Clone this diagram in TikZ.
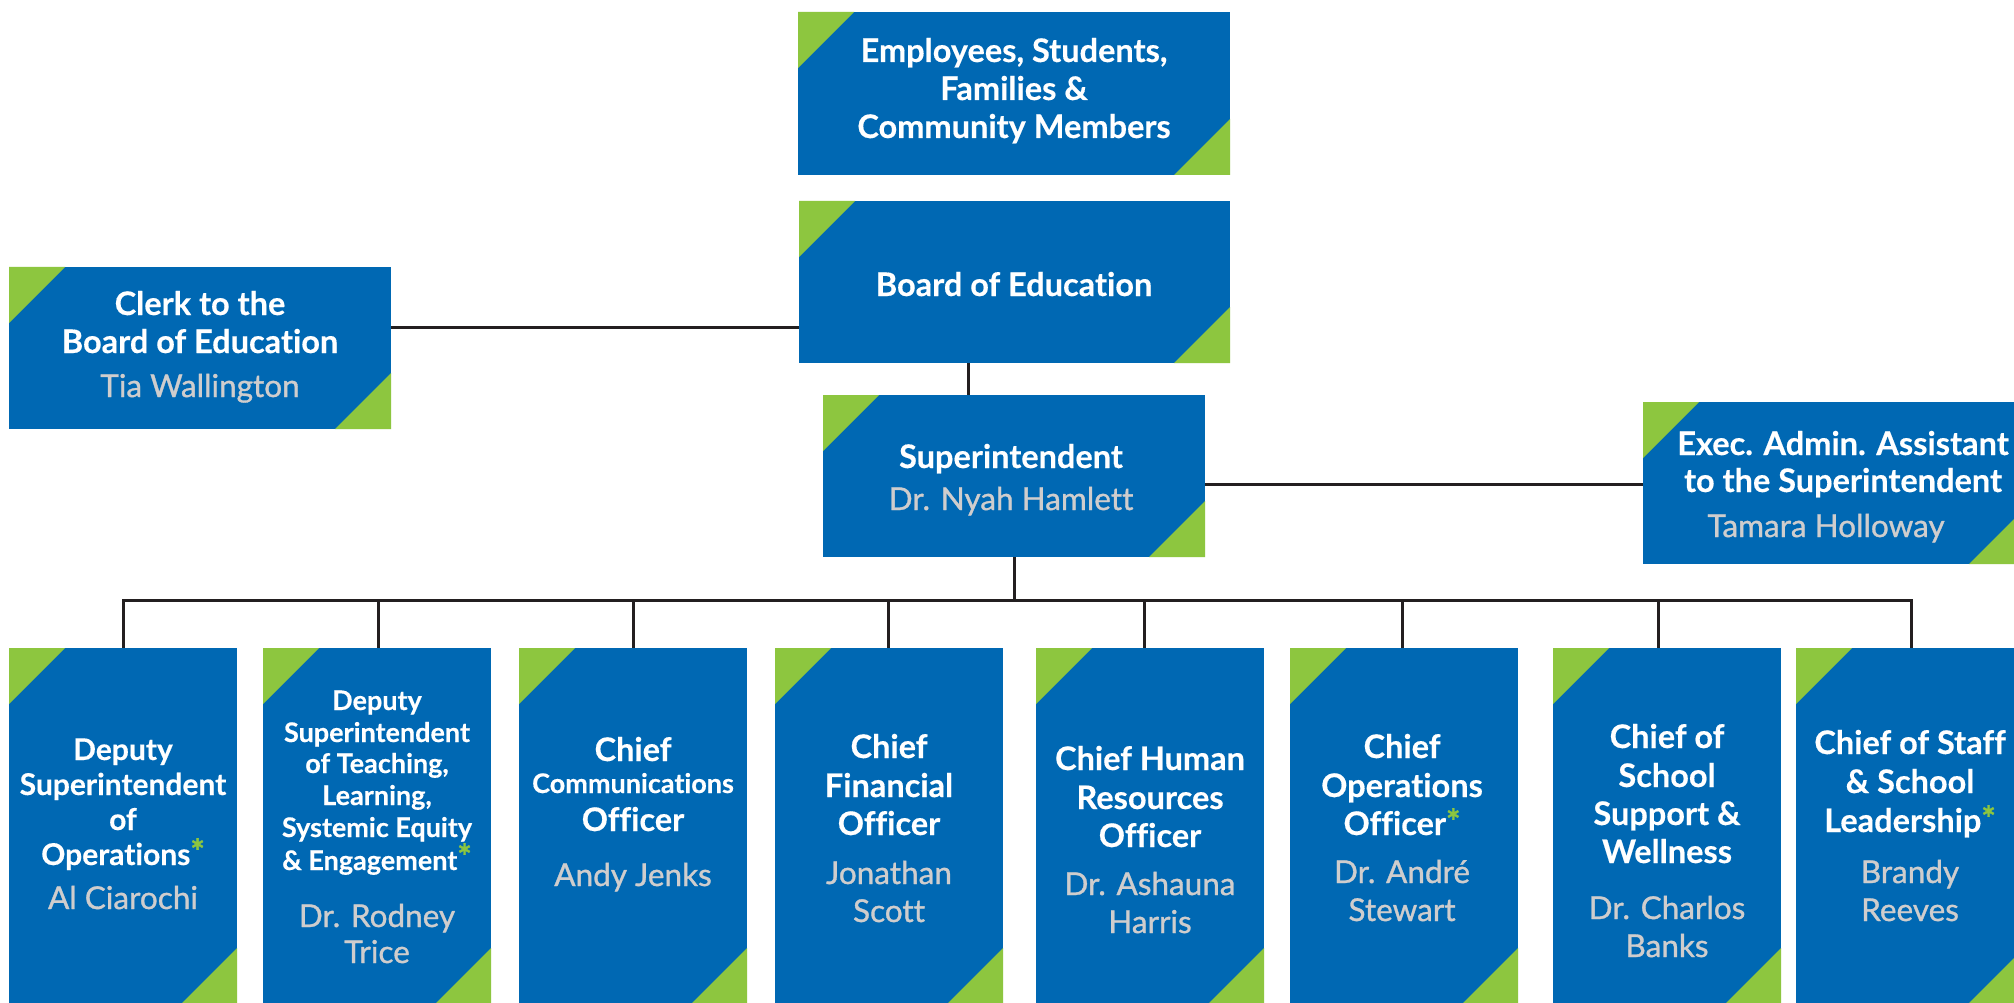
\documentclass[tikz,border=0pt]{standalone}
\usepackage{fontspec}
\setmainfont{Lato}[Ligatures={NoCommon,NoRare,NoContextual}, BoldFeatures={FakeBold=0.4}]
\newfontfamily\nmfont[FakeBold=1, Ligatures={NoCommon,NoRare,NoContextual}]{Lato}
\definecolor{bblue}{RGB}{0,104,179}
\definecolor{bgreen}{RGB}{141,198,63}
\definecolor{ngray}{RGB}{207,205,205}
\definecolor{lcol}{RGB}{35,31,32}
\newcommand{\gst}{\textcolor{bgreen}{\raisebox{1pt}{\nmfont\fontsize{34}{34}\selectfont *}}}
\newcommand{\corners}[1]{%
  \fill[bgreen] (#1.north west) -- ++(56,0) -- ++(-56,56) -- cycle;
  \fill[bgreen] (#1.south east) -- ++(-56,0) -- ++(56,-56) -- cycle;}
\tikzset{
  box/.style n args={2}{rectangle, fill=bblue, inner sep=0pt, outer sep=0pt,
    minimum width=#1pt, minimum height=#2pt},
  ttl/.style={anchor=base, text=white, inner sep=0pt, font=\bfseries\fontsize{32.5}{32.5}\selectfont},
  ttlm/.style={anchor=base, text=white, inner sep=0pt, font=\bfseries\fontsize{30}{30}\selectfont},
  ttls/.style={anchor=base, text=white, inner sep=0pt, font=\bfseries\fontsize{27}{27}\selectfont},
  ttlxs/.style={anchor=base, text=white, inner sep=0pt, font=\bfseries\fontsize{27}{27}\selectfont},
  nm/.style={anchor=base, text=ngray, inner sep=0pt, font=\nmfont\fontsize{31.5}{31.5}\selectfont},
  conn/.style={draw=lcol, line width=3pt}
}
\begin{document}
\begin{tikzpicture}[x=1pt,y=-1pt]
\clip (0,0) rectangle (2014,1003);
\fill[white] (0,0) rectangle (2014,1003);
% boxes
\node[box={432}{163}] (top) at (1014,93.5) {};
\node[box={431}{162}] (board) at (1014.5,282) {};
\node[box={382}{162}] (clerk) at (200,348) {};
\node[box={382}{162}] (super) at (1014,476) {};
\node[box={382}{162}] (exec) at (1834,483) {};
\node[box={228}{356}] (b1) at (123,826) {};
\node[box={228}{356}] (b2) at (377,826) {};
\node[box={228}{356}] (b3) at (633,826) {};
\node[box={228}{356}] (b4) at (889,826) {};
\node[box={228}{356}] (b5) at (1150,826) {};
\node[box={228}{356}] (b6) at (1404,826) {};
\node[box={228}{356}] (b7) at (1667,826) {};
\node[box={228}{356}] (b8) at (1910,826) {};
\foreach \b in {top,board,clerk,super,exec,b1,b2,b3,b4,b5,b6,b7,b8}{\corners{\b}}
% connectors
\coordinate (cl) at (0,327);
\draw[conn] (clerk.east |- cl) -- (board.west |- cl);
\coordinate (bs) at (968,0);
\draw[conn] (board.south -| bs) -- (super.north -| bs);
\coordinate (ex) at (0,484);
\draw[conn] (super.east |- ex) -- (exec.west |- ex);
\coordinate (bus) at (0,600);
\draw[conn] (super.south) -- (super.south |- bus);
\coordinate (c1) at (123,600);
\coordinate (c2) at (378,600);
\coordinate (c3) at (633,600);
\coordinate (c4) at (888,600);
\coordinate (c5) at (1144,600);
\coordinate (c6) at (1402,600);
\coordinate (c7) at (1658,600);
\coordinate (c8) at (1911,600);
\draw[conn, line cap=rect] (c1) -- (c8);
\foreach \i in {1,...,8}{\draw[conn] (c\i) -- (b\i.north -| c\i);}
% texts
\node[ttl] (t0a) at (1014,62) {Employees, Students,};
\node[ttl] (t0b) at (1014,100) {Families \&};
\node[ttl] (t0c) at (1014,138) {Community Members};
\node[ttl] (tba) at (1014,296) {Board of Education};
\node[ttl] (tca) at (200,315) {Clerk to the};
\node[ttl] (tcb) at (200,353) {Board of Education};
\node[nm] (tcn) at (200,397) {Tia Wallington};
\node[ttl] (tsa) at (1011,468) {Superintendent};
\node[nm] (tsn) at (1011,510) {Dr. Nyah Hamlett};
\node[ttl] (tea) at (1843,455) {Exec. Admin. Assistant};
\node[ttl] (teb) at (1843,492) {to the Superintendent};
\node[nm] (ten) at (1826,537) {Tamara Holloway};
% b1
\node[ttlm] (t1a) at (123,760) {Deputy};
\node[ttlm] (t1b) at (123,795) {Superintendent};
\node[ttlm] (t1c) at (123,830) {of};
\node[ttlm] (t1d) at (123,865) {Operations\gst};
\node[nm] (t1n) at (123,909) {Al Ciarochi};
% b2
\node[ttls] (t2a) at (377,710) {Deputy};
\node[ttls] (t2b) at (377,742) {Superintendent};
\node[ttls] (t2c) at (377,773) {of Teaching,};
\node[ttls] (t2d) at (377,805) {Learning,};
\node[ttls] (t2e) at (377,837) {Systemic Equity};
\node[ttls] (t2f) at (377,870) {\& Engagement\gst};
\node[nm] (t2n) at (377,927) {Dr. Rodney};
\node[nm] (t2m) at (377,963) {Trice};
% b3
\node[ttl] (t3a) at (633,761) {Chief};
\node[ttlxs] (t3b) at (633,793) {Communications};
\node[ttl] (t3c) at (633,831) {Officer};
\node[nm] (t3n) at (633,886) {Andy Jenks};
% b4
\node[ttl] (t4a) at (889,758) {Chief};
\node[ttl] (t4b) at (889,797) {Financial};
\node[ttl] (t4c) at (889,835) {Officer};
\node[nm] (t4n) at (889,884) {Jonathan};
\node[nm] (t4m) at (889,922) {Scott};
% b5
\node[ttl] (t5a) at (1150,770) {Chief Human};
\node[ttl] (t5b) at (1150,809) {Resources};
\node[ttl] (t5c) at (1150,847) {Officer};
\node[nm] (t5n) at (1150,895) {Dr. Ashauna};
\node[nm] (t5m) at (1150,933) {Harris};
% b6
\node[ttl] (t6a) at (1402,758) {Chief};
\node[ttl] (t6b) at (1402,797) {Operations};
\node[ttl] (t6c) at (1402,835) {Officer\gst};
\node[nm] (t6n) at (1402,883) {Dr. André};
\node[nm] (t6m) at (1402,921) {Stewart};
% b7
\node[ttl] (t7a) at (1667,748) {Chief of};
\node[ttl] (t7b) at (1667,787) {School};
\node[ttl] (t7c) at (1667,825) {Support \&};
\node[ttl] (t7d) at (1667,863) {Wellness};
\node[nm] (t7n) at (1667,919) {Dr. Charlos};
\node[nm] (t7m) at (1667,957) {Banks};
% b8
\node[ttl] (t8a) at (1910,754) {Chief of Staff};
\node[ttl] (t8b) at (1910,793) {\& School};
\node[ttl] (t8c) at (1910,832) {Leadership\gst};
\node[nm] (t8n) at (1910,883) {Brandy};
\node[nm] (t8m) at (1910,921) {Reeves};
\end{tikzpicture}
\end{document}
